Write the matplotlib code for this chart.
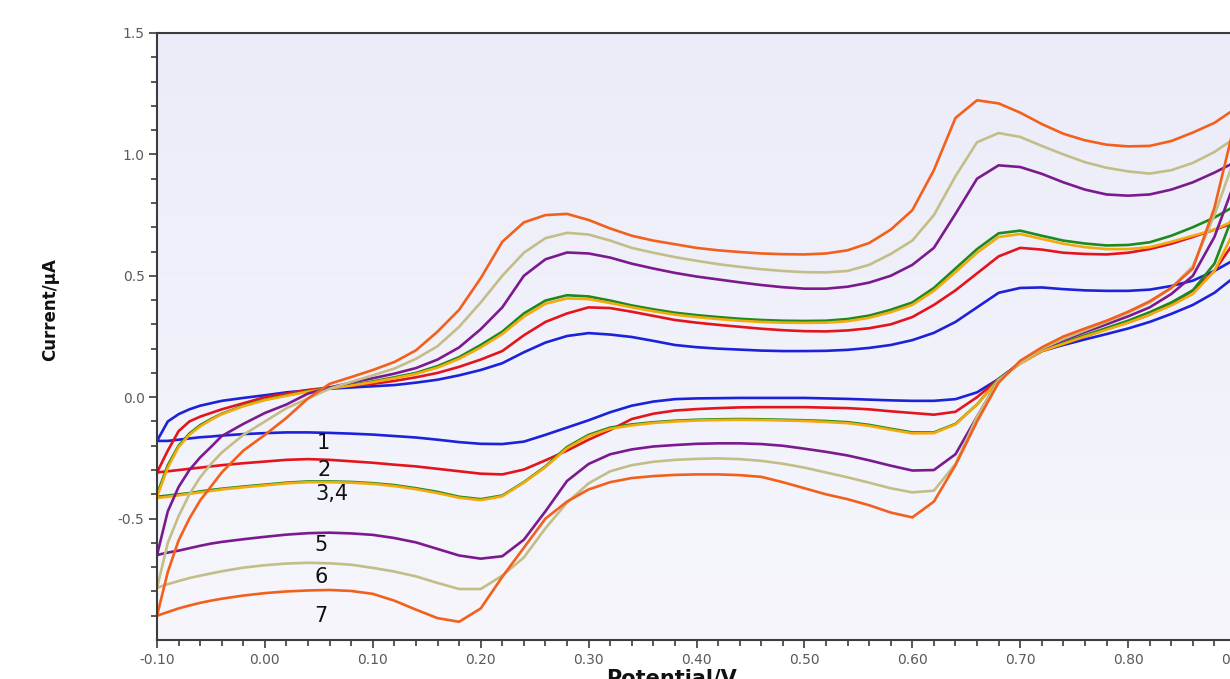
import numpy as np
import matplotlib
matplotlib.use("Agg")
import matplotlib.pyplot as plt
from matplotlib.ticker import MultipleLocator, FixedLocator, FormatStrFormatter

# potential grid shared by the forward and reverse sweeps (V)
potential = [-0.10, -0.09, -0.08, -0.07, -0.06, -0.05, -0.04, -0.02, 0.00, 0.02,
             0.04, 0.06, 0.08, 0.10, 0.12, 0.14, 0.16, 0.18, 0.20, 0.22,
             0.24, 0.26, 0.28, 0.30, 0.32, 0.34, 0.36, 0.38, 0.40, 0.42,
             0.44, 0.46, 0.48, 0.50, 0.52, 0.54, 0.56, 0.58, 0.60, 0.62,
             0.64, 0.66, 0.68, 0.70, 0.72, 0.74, 0.76, 0.78, 0.80, 0.82,
             0.84, 0.86, 0.88, 0.90]

# current (uA), anodic sweep
fwd_1 = [-0.18, -0.10, -0.07, -0.05, -0.035, -0.025, -0.015, -0.003, 0.008, 0.02,
         0.028, 0.035, 0.04, 0.045, 0.05, 0.06, 0.072, 0.09, 0.112, 0.14,
         0.185, 0.225, 0.252, 0.264, 0.258, 0.248, 0.232, 0.215, 0.206, 0.2,
         0.196, 0.192, 0.19, 0.19, 0.191, 0.195, 0.203, 0.215, 0.235, 0.265,
         0.31, 0.37, 0.43, 0.45, 0.452, 0.445, 0.44, 0.438, 0.438, 0.443,
         0.458, 0.48, 0.52, 0.57]
fwd_2 = [-0.31, -0.22, -0.14, -0.10, -0.08, -0.065, -0.05, -0.025, 0.0, 0.015,
         0.03, 0.04, 0.047, 0.055, 0.067, 0.082, 0.1, 0.125, 0.155, 0.19,
         0.255, 0.31, 0.345, 0.37, 0.367, 0.352, 0.335, 0.318, 0.307, 0.298,
         0.29, 0.282, 0.276, 0.272, 0.271, 0.275, 0.284, 0.3, 0.33, 0.38,
         0.44, 0.51, 0.58, 0.615, 0.608, 0.595, 0.59, 0.588, 0.595, 0.61,
         0.632, 0.66, 0.69, 0.72]
fwd_3 = [-0.40, -0.28, -0.20, -0.15, -0.115, -0.09, -0.068, -0.035, -0.01, 0.008,
         0.025, 0.038, 0.05, 0.065, 0.082, 0.1, 0.128, 0.165, 0.215, 0.27,
         0.345, 0.398, 0.42, 0.415, 0.398, 0.378, 0.362, 0.348, 0.338, 0.33,
         0.323, 0.318, 0.315, 0.314, 0.315, 0.322, 0.336, 0.36, 0.39, 0.45,
         0.53, 0.61, 0.675, 0.686, 0.665, 0.645, 0.633, 0.625, 0.627, 0.638,
         0.665, 0.70, 0.74, 0.79]
fwd_4 = [-0.41, -0.29, -0.205, -0.155, -0.12, -0.093, -0.07, -0.037, -0.012, 0.006,
         0.023, 0.036, 0.048, 0.062, 0.078, 0.096, 0.122, 0.158, 0.205, 0.26,
         0.332, 0.385, 0.407, 0.404, 0.388, 0.37, 0.354, 0.34, 0.33, 0.322,
         0.315, 0.31, 0.307, 0.306, 0.307, 0.313, 0.327, 0.35, 0.38, 0.438,
         0.515, 0.595, 0.66, 0.672, 0.652, 0.632, 0.618, 0.61, 0.61, 0.618,
         0.64, 0.665, 0.69, 0.73]
fwd_5 = [-0.65, -0.47, -0.37, -0.30, -0.248, -0.205, -0.16, -0.11, -0.065, -0.03,
         0.015, 0.04, 0.06, 0.078, 0.097, 0.12, 0.155, 0.205, 0.28, 0.37,
         0.5, 0.568, 0.596, 0.592, 0.575, 0.55, 0.53, 0.512, 0.497, 0.485,
         0.473, 0.462, 0.453, 0.447, 0.447, 0.455, 0.472, 0.5, 0.545, 0.615,
         0.755, 0.9, 0.955, 0.948, 0.92, 0.885, 0.855, 0.835, 0.83, 0.835,
         0.855, 0.885, 0.925, 0.97]
fwd_6 = [-0.785, -0.6, -0.49, -0.40, -0.33, -0.275, -0.228, -0.155, -0.1, -0.045,
         -0.005, 0.035, 0.063, 0.09, 0.118, 0.158, 0.21, 0.29, 0.39, 0.5,
         0.595, 0.655, 0.677, 0.67, 0.645, 0.615, 0.595, 0.577, 0.562, 0.548,
         0.537, 0.527, 0.52, 0.515, 0.514, 0.52, 0.545, 0.59, 0.645, 0.75,
         0.91, 1.05, 1.088, 1.072, 1.035, 1.0, 0.968, 0.945, 0.93, 0.921,
         0.935, 0.965, 1.01, 1.07]
fwd_7 = [-0.90, -0.72, -0.59, -0.50, -0.425, -0.368, -0.31, -0.22, -0.155, -0.085,
         -0.005, 0.055, 0.083, 0.112, 0.145, 0.193, 0.27, 0.36, 0.49, 0.64,
         0.72, 0.75, 0.755, 0.73, 0.695, 0.665, 0.645, 0.63, 0.615, 0.605,
         0.598, 0.592, 0.589, 0.588, 0.592, 0.605, 0.635, 0.69, 0.77, 0.935,
         1.15, 1.223, 1.21, 1.172, 1.125, 1.085, 1.058, 1.04, 1.033, 1.035,
         1.055, 1.09, 1.13, 1.19]

# current (uA), cathodic sweep, listed on the same potential grid
rev_1 = [-0.18, -0.18, -0.175, -0.17, -0.165, -0.162, -0.158, -0.152, -0.148, -0.145,
         -0.145, -0.147, -0.15, -0.154, -0.16, -0.166, -0.175, -0.185, -0.192, -0.193,
         -0.183, -0.155, -0.125, -0.095, -0.062, -0.035, -0.018, -0.008, -0.005, -0.004,
         -0.003, -0.003, -0.003, -0.003, -0.005, -0.007, -0.01, -0.013, -0.015, -0.015,
         -0.008, 0.02, 0.075, 0.14, 0.19, 0.215, 0.238, 0.26, 0.283, 0.31,
         0.343, 0.38, 0.43, 0.5]
rev_2 = [-0.31, -0.305, -0.30, -0.295, -0.29, -0.285, -0.28, -0.272, -0.265, -0.258,
         -0.255, -0.258, -0.264, -0.27, -0.278, -0.285, -0.295, -0.305, -0.315, -0.318,
         -0.298, -0.26, -0.22, -0.175, -0.135, -0.09, -0.068, -0.055, -0.049, -0.045,
         -0.042, -0.041, -0.041, -0.041, -0.043, -0.045, -0.05, -0.058, -0.065, -0.072,
         -0.06, 0.0, 0.075, 0.14, 0.19, 0.22, 0.25, 0.28, 0.308, 0.34,
         0.385, 0.44, 0.52, 0.65]
rev_3 = [-0.41, -0.405, -0.40, -0.395, -0.388, -0.382, -0.377, -0.368, -0.36, -0.352,
         -0.347, -0.347, -0.349, -0.354, -0.362, -0.375, -0.39, -0.41, -0.42, -0.405,
         -0.35, -0.285, -0.205, -0.155, -0.125, -0.112, -0.103, -0.097, -0.093, -0.091,
         -0.09, -0.091, -0.093, -0.095, -0.098, -0.103, -0.114, -0.13, -0.145, -0.145,
         -0.11, -0.03, 0.075, 0.14, 0.195, 0.225, 0.255, 0.285, 0.315, 0.35,
         0.39, 0.44, 0.55, 0.78]
rev_4 = [-0.415, -0.41, -0.404, -0.398, -0.392, -0.386, -0.38, -0.371, -0.363, -0.355,
         -0.35, -0.35, -0.352, -0.357, -0.366, -0.379, -0.395, -0.414, -0.424, -0.408,
         -0.352, -0.288, -0.21, -0.16, -0.13, -0.116, -0.106, -0.1, -0.096, -0.094,
         -0.093, -0.094, -0.096, -0.098, -0.102, -0.107, -0.118, -0.134, -0.149, -0.148,
         -0.112, -0.03, 0.072, 0.138, 0.19, 0.22, 0.25, 0.278, 0.307, 0.34,
         0.378, 0.425, 0.52, 0.70]
rev_5 = [-0.65, -0.64, -0.632, -0.622, -0.612, -0.603, -0.596, -0.585, -0.575, -0.566,
         -0.56, -0.558, -0.561, -0.567, -0.58, -0.598, -0.625, -0.652, -0.665, -0.655,
         -0.587, -0.47, -0.345, -0.275, -0.235, -0.215, -0.203, -0.197, -0.192, -0.19,
         -0.19, -0.193, -0.2, -0.212, -0.225, -0.24, -0.26, -0.282, -0.302, -0.3,
         -0.235, -0.08, 0.07, 0.145, 0.2, 0.235, 0.268, 0.3, 0.333, 0.37,
         0.425, 0.5, 0.66, 0.9]
rev_6 = [-0.785, -0.77, -0.757, -0.745, -0.735, -0.726, -0.717, -0.702, -0.692, -0.685,
         -0.682, -0.684, -0.69, -0.703, -0.718, -0.738, -0.765, -0.79, -0.79, -0.735,
         -0.66, -0.54, -0.434, -0.355, -0.305, -0.28, -0.266, -0.258, -0.254, -0.252,
         -0.255, -0.262, -0.274, -0.29, -0.31, -0.33, -0.352, -0.375, -0.392, -0.385,
         -0.275, -0.08, 0.07, 0.14, 0.2, 0.24, 0.275, 0.31, 0.348, 0.39,
         0.45, 0.54, 0.75, 1.0]
rev_7 = [-0.90, -0.885, -0.87, -0.858, -0.847, -0.838, -0.83, -0.817, -0.807, -0.8,
         -0.796, -0.794, -0.798, -0.81, -0.838, -0.875, -0.91, -0.925, -0.87, -0.74,
         -0.62, -0.5, -0.43, -0.38, -0.35, -0.333, -0.325, -0.32, -0.318, -0.318,
         -0.321, -0.328, -0.35, -0.375, -0.4, -0.42, -0.445, -0.475, -0.495, -0.43,
         -0.28, -0.1, 0.06, 0.15, 0.205, 0.25, 0.283, 0.315, 0.352, 0.395,
         0.45, 0.53, 0.78, 1.15]

trace_names = ["1", "2", "3", "4", "5", "6", "7"]
trace_colors = ["#1b22d8", "#e3141c", "#1e8a1e", "#f2aa0c", "#7b1a8e", "#c3bd88", "#f2601c"]
forward = [fwd_1, fwd_2, fwd_3, fwd_4, fwd_5, fwd_6, fwd_7]
reverse = [rev_1, rev_2, rev_3, rev_4, rev_5, rev_6, rev_7]

# curve numbers written under the cathodic branches
tag_text = ["1", "2", "3,4", "5", "6", "7"]
tag_x = [0.054, 0.055, 0.062, 0.052, 0.052, 0.052]
tag_y = [-0.19, -0.30, -0.40, -0.61, -0.74, -0.90]

fig = plt.figure(figsize=(12.30, 6.79), dpi=100)
fig.patch.set_facecolor("white")
ax = fig.add_axes([157 / 1230, 39 / 679, 1079 / 1230, 607 / 679])
ax.set_xlim(-0.10, 0.90)
ax.set_ylim(-1.0, 1.5)

# pale lavender wash behind the traces
grad = np.linspace(0, 1, 256).reshape(-1, 1)
top_c = np.array([236, 236, 249]) / 255
bot_c = np.array([246, 246, 252]) / 255
wash = top_c + (bot_c - top_c) * grad[..., None]
ax.imshow(wash.reshape(256, 1, 3), extent=[0, 1, 0, 1], transform=ax.transAxes,
          aspect="auto", zorder=0, interpolation="bilinear")

E = np.array(potential)
for name, col, f, r in zip(trace_names, trace_colors, forward, reverse):
    xs = np.concatenate([E, E[::-1]])
    ys = np.concatenate([np.array(f), np.array(r)[::-1]])
    ax.plot(xs, ys, color=col, lw=1.9, solid_joinstyle="round", zorder=2)

for t, x, y in zip(tag_text, tag_x, tag_y):
    ax.text(x, y, t, fontsize=15, color="#111111", ha="center", va="center",
            family="DejaVu Sans", zorder=3)

for side in ["left", "top", "bottom"]:
    ax.spines[side].set_color("#3c3c3c")
    ax.spines[side].set_linewidth(1.5)
ax.spines["right"].set_visible(False)

ax.xaxis.set_major_locator(MultipleLocator(0.1))
ax.xaxis.set_minor_locator(MultipleLocator(0.02))
ax.xaxis.set_major_formatter(FormatStrFormatter("%.2f"))
ax.yaxis.set_major_locator(FixedLocator([-0.5, 0.0, 0.5, 1.0, 1.5]))
ax.yaxis.set_minor_locator(FixedLocator(np.round(np.arange(-0.9, 1.45, 0.1), 2)))
ax.yaxis.set_major_formatter(FormatStrFormatter("%.1f"))
ax.tick_params(which="both", direction="out", color="#3c3c3c", width=1.2,
               labelcolor="#5a5a5a", labelsize=10)
ax.tick_params(which="major", length=6, pad=3)
ax.tick_params(which="minor", length=4)

fig.text(50 / 1230, 1 - 310 / 679, "Current/\u00b5A", rotation=90, fontsize=12,
         fontweight="bold", ha="center", va="center", color="#111111")
fig.text(672 / 1230, -5 / 679, "Potential/V", fontsize=15, fontweight="bold",
         ha="center", va="baseline", color="#111111")

fig.savefig("out.png", dpi=100)
